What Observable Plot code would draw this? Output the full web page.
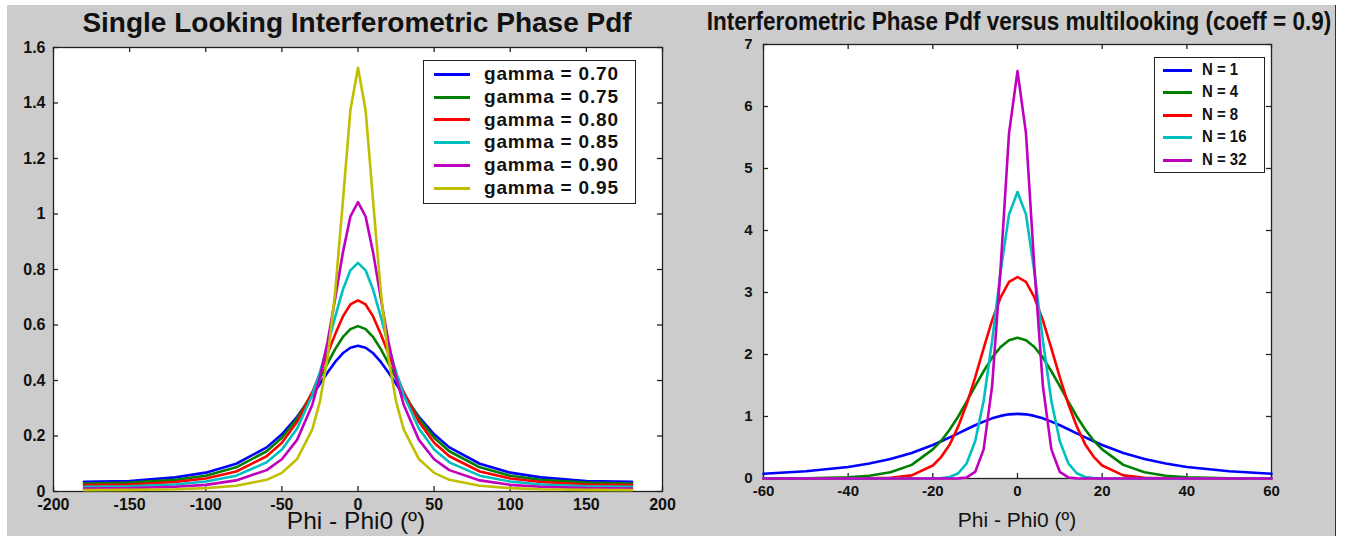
<!DOCTYPE html>
<html><head><meta charset="utf-8">
<script src="https://cdn.jsdelivr.net/npm/d3@7"></script>
<script src="https://cdn.jsdelivr.net/npm/@observablehq/plot@0.6"></script>
<style>
html,body{margin:0;padding:0;background:#fff;}
#page{position:relative;width:1348px;height:536px;overflow:hidden;background:#fff;font-family:"Liberation Sans",Arial,sans-serif;color:#111;}
#bg{position:absolute;left:7px;top:5px;width:1328px;height:531px;background:#cccccc;border-right:1px solid #333;}
.abs{position:absolute;}
.title{white-space:nowrap;font-weight:bold;}
.xlab{white-space:nowrap;transform:translate(-50%,-50%);}
.legend{position:absolute;background:#fff;border:1px solid #222;box-sizing:border-box;}
.legend .row{position:absolute;left:0;white-space:nowrap;font-weight:bold;}
.legend .sw{position:absolute;height:0;border-top:3px solid;}
</style>
</head><body>
<div id="page">
  <div id="bg"></div>
</div>
<script>
// ---------- Left chart data ----------
const leftX = [-180,-150,-120,-100,-80,-60,-50,-40,-30,-25,-20,-15,-10,-5,0,5,10,15,20,25,30,40,50,60,80,100,120,150,180];
const gamma070 = [0.035,0.038,0.051,0.068,0.100,0.159,0.206,0.269,0.346,0.388,0.429,0.467,0.498,0.518,0.525,0.518,0.498,0.467,0.429,0.388,0.346,0.269,0.206,0.159,0.100,0.068,0.051,0.038,0.035];
const gamma075 = [0.029,0.032,0.042,0.057,0.087,0.145,0.194,0.263,0.355,0.408,0.462,0.513,0.556,0.585,0.596,0.585,0.556,0.513,0.462,0.408,0.355,0.263,0.194,0.145,0.087,0.057,0.042,0.032,0.029];
const gamma080 = [0.023,0.025,0.034,0.047,0.072,0.127,0.176,0.251,0.358,0.424,0.496,0.567,0.630,0.674,0.689,0.674,0.630,0.567,0.496,0.424,0.358,0.251,0.176,0.127,0.072,0.047,0.034,0.025,0.023];
const gamma085 = [0.017,0.019,0.025,0.036,0.057,0.105,0.151,0.227,0.348,0.430,0.526,0.629,0.726,0.797,0.824,0.797,0.726,0.629,0.526,0.430,0.348,0.227,0.151,0.105,0.057,0.036,0.025,0.019,0.017];
const gamma090 = [0.011,0.012,0.017,0.024,0.040,0.077,0.116,0.186,0.313,0.412,0.540,0.695,0.859,0.991,1.043,0.991,0.859,0.695,0.540,0.412,0.313,0.186,0.116,0.077,0.040,0.024,0.017,0.012,0.011];
const gamma095 = [0.005,0.006,0.008,0.012,0.021,0.042,0.067,0.117,0.224,0.325,0.481,0.718,1.041,1.374,1.527,1.374,1.041,0.718,0.481,0.325,0.224,0.117,0.067,0.042,0.021,0.012,0.008,0.006,0.005];
const leftNames = ["gamma = 0.70","gamma = 0.75","gamma = 0.80","gamma = 0.85","gamma = 0.90","gamma = 0.95"];
const leftColors = ["#0000ff","#008000","#ff0000","#00bfbf","#bf00bf","#bfbf00"];
const leftXTicks = [-200,-150,-100,-50,0,50,100,150,200];
const leftXTickLabels = ["-200","-150","-100","-50","0","50","100","150","200"];
const leftYTicks = [0,0.2,0.4,0.6,0.8,1,1.2,1.4,1.6];
const leftYTickLabels = ["0","0.2","0.4","0.6","0.8","1","1.2","1.4","1.6"];
const leftTitle = "Single Looking Interferometric Phase Pdf";
const leftXLabel = "Phi - Phi0 (º)";

// ---------- Right chart data ----------
const rightX = [-60,-50,-40,-35,-30,-25,-20,-18,-16,-14,-12,-10,-8,-6,-4,-2,0,2,4,6,8,10,12,14,16,18,20,25,30,35,40,50,60];
const look1  = [0.077,0.116,0.186,0.243,0.313,0.412,0.540,0.600,0.663,0.728,0.795,0.859,0.917,0.970,1.010,1.035,1.043,1.035,1.010,0.970,0.917,0.859,0.795,0.728,0.663,0.600,0.540,0.412,0.313,0.243,0.186,0.116,0.077];
const look4  = [0.002,0.005,0.02,0.045,0.10,0.22,0.47,0.61,0.79,1.00,1.24,1.49,1.73,1.95,2.12,2.23,2.27,2.23,2.12,1.95,1.73,1.49,1.24,1.00,0.79,0.61,0.47,0.22,0.10,0.045,0.02,0.005,0.002];
const look8  = [0,0,0.001,0.003,0.012,0.05,0.21,0.35,0.55,0.84,1.20,1.63,2.10,2.55,2.92,3.17,3.25,3.17,2.92,2.55,2.10,1.63,1.20,0.84,0.55,0.35,0.21,0.05,0.012,0.003,0.001,0,0];
const look16 = [0,0,0,0,0,0,0.001,0.006,0.025,0.085,0.245,0.60,1.25,2.22,3.33,4.26,4.62,4.26,3.33,2.22,1.25,0.60,0.245,0.085,0.025,0.006,0.001,0,0,0,0,0,0];
const look32 = [0,0,0,0,0,0,0,0,0,0.002,0.017,0.106,0.47,1.49,3.39,5.57,6.57,5.57,3.39,1.49,0.47,0.106,0.017,0.002,0,0,0,0,0,0,0,0,0];
const rightNames = ["N = 1","N = 4","N = 8","N = 16","N = 32"];
const rightColors = ["#0000ff","#008000","#ff0000","#00bfbf","#bf00bf"];
const rightXTicks = [-60,-40,-20,0,20,40,60];
const rightXTickLabels = ["-60","-40","-20","0","20","40","60"];
const rightYTicks = [0,1,2,3,4,5,6,7];
const rightYTickLabels = ["0","1","2","3","4","5","6","7"];
const rightTitle = "Interferometric Phase Pdf versus multilooking (coeff = 0.9)";
const rightXLabel = "Phi - Phi0 (º)";

const page = document.getElementById("page");

function tableOf(xs, seriesList, names) {
  const rows = [];
  seriesList.forEach((vals, k) => vals.forEach((v, i) => rows.push({x: xs[i], y: v, s: names[k]})));
  return rows;
}

function panel(cfg) {
  const innerW = cfg.width - cfg.ml - cfg.mr;
  const innerH = cfg.height - cfg.mt - cfg.mb;
  const tk = 5;
  const fmtX = d => cfg.xLabels[cfg.xTicks.indexOf(d)];
  const fmtY = d => cfg.yLabels[cfg.yTicks.indexOf(d)];
  const svg = Plot.plot({
    width: cfg.width, height: cfg.height,
    marginLeft: cfg.ml, marginRight: cfg.mr, marginTop: cfg.mt, marginBottom: cfg.mb,
    style: {background: "transparent", overflow: "visible", fontFamily: '"Liberation Sans", Arial, sans-serif', color: "#111"},
    x: {domain: cfg.xDomain},
    y: {domain: cfg.yDomain},
    color: {domain: cfg.names, range: cfg.colors},
    marks: [
      Plot.frame({fill: "white", stroke: null}),
      Plot.frame({stroke: "#222", strokeWidth: 1.3}),
      Plot.tickX(cfg.xTicks, {x: d => d, insetTop: innerH - tk, stroke: "#222", strokeWidth: 1.3}),
      Plot.tickX(cfg.xTicks, {x: d => d, insetBottom: innerH - tk, stroke: "#222", strokeWidth: 1.3}),
      Plot.tickY(cfg.yTicks, {y: d => d, insetRight: innerW - tk, stroke: "#222", strokeWidth: 1.3}),
      Plot.tickY(cfg.yTicks, {y: d => d, insetLeft: innerW - tk, stroke: "#222", strokeWidth: 1.3}),
      Plot.line(tableOf(cfg.xs, cfg.series, cfg.names), {x: "x", y: "y", z: "s", stroke: "s", strokeWidth: 2.6, strokeLinejoin: "round"}),
      Plot.axisX(cfg.xTicks, {tickSize: 0, tickPadding: cfg.xPad, tickFormat: fmtX, fontSize: cfg.tickFont, fontWeight: "bold", label: null}),
      Plot.axisY(cfg.yTicks, {tickSize: 0, tickPadding: cfg.yPad, tickFormat: fmtY, fontSize: cfg.tickFont, fontWeight: "bold", label: null})
    ]
  });
  svg.style.position = "absolute";
  svg.style.left = cfg.left + "px";
  svg.style.top = "0px";
  page.appendChild(svg);
}

panel({
  left: 0, width: 668, height: 536, ml: 53, mr: 6, mt: 47, mb: 45,
  xDomain: [-200, 200], yDomain: [0, 1.6],
  xs: leftX, series: [gamma070, gamma075, gamma080, gamma085, gamma090, gamma095],
  names: leftNames, colors: leftColors,
  xTicks: leftXTicks, xLabels: leftXTickLabels, yTicks: leftYTicks, yLabels: leftYTickLabels,
  tickFont: 16, xPad: 7, yPad: 8
});

panel({
  left: 668, width: 680, height: 536, ml: 95, mr: 77, mt: 44, mb: 58,
  xDomain: [-60, 60], yDomain: [0, 7],
  xs: rightX, series: [look1, look4, look8, look16, look32],
  names: rightNames, colors: rightColors,
  xTicks: rightXTicks, xLabels: rightXTickLabels, yTicks: rightYTicks, yLabels: rightYTickLabels,
  tickFont: 15, xPad: 7, yPad: 11
});

// Titles (centered, optionally condensed) and axis labels
function addTitle(parent, txt, cx, cy, size, sx) {
  const d = document.createElement("div");
  d.className = "abs title";
  d.textContent = txt;
  Object.assign(d.style, {left: cx + "px", top: cy + "px", fontSize: size + "px",
    transform: "translate(-50%,-50%) scaleX(" + sx + ")"});
  parent.appendChild(d);
}
function addText(txt, cls, x, y, size) {
  const d = document.createElement("div");
  d.className = "abs " + cls;
  d.textContent = txt;
  d.style.left = x + "px"; d.style.top = y + "px"; d.style.fontSize = size + "px";
  page.appendChild(d);
}
addTitle(page, leftTitle, 357, 23, 28, 1);
const clip = document.createElement("div");
clip.className = "abs";
Object.assign(clip.style, {left: "668px", top: "0px", width: "667px", height: "50px", overflow: "hidden"});
page.appendChild(clip);
addTitle(clip, rightTitle, 1019 - 668, 21, 25, 0.9);

addText(leftXLabel, "xlab", 356, 521, 24.5);
addText(rightXLabel, "xlab", 1017, 520, 21);

// Legends
function legend(names, colors, box, rowH, firstY, swX, swW, textX, size, spacing, sx) {
  const L = document.createElement("div");
  L.className = "legend";
  Object.assign(L.style, {left: box[0] + "px", top: box[1] + "px", width: box[2] + "px", height: box[3] + "px"});
  names.forEach((n, i) => {
    const cy = firstY + i * rowH;
    const sw = document.createElement("div");
    sw.className = "sw";
    Object.assign(sw.style, {left: swX + "px", width: swW + "px", top: (cy - 1.5) + "px", borderTopColor: colors[i]});
    L.appendChild(sw);
    const t = document.createElement("div");
    t.className = "row";
    t.textContent = n;
    Object.assign(t.style, {left: textX + "px", top: (cy - size * 0.6) + "px", fontSize: size + "px",
      lineHeight: (size * 1.2) + "px", letterSpacing: spacing + "px",
      transform: "scaleX(" + sx + ")", transformOrigin: "left center"});
    L.appendChild(t);
  });
  page.appendChild(L);
}
legend(leftNames, leftColors, [423, 60, 213, 144], 22.7, 13.5, 10, 36, 60, 19, 0.8, 1);
legend(rightNames, rightColors, [1154, 57, 111, 116], 22.5, 12, 8, 29, 47, 17, 0, 0.88);
</script>
</body></html>
